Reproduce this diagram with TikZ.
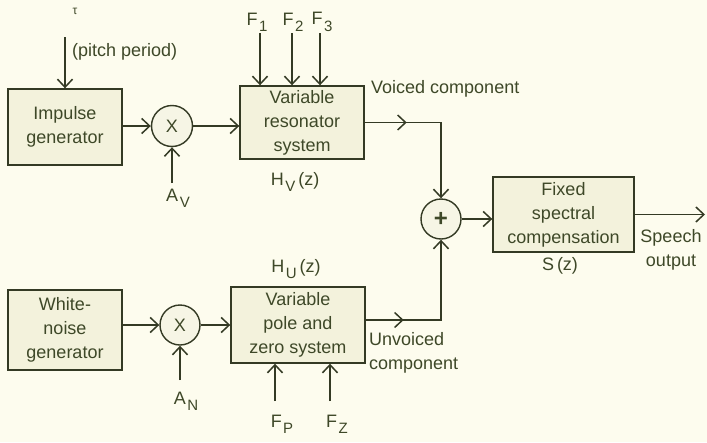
\documentclass[tikz,border=0pt]{standalone}
\usepackage{fontspec}
\setmainfont{Liberation Sans}
\usetikzlibrary{arrows.meta}
\definecolor{bg}{HTML}{FDFCEE}
\definecolor{boxfill}{HTML}{F3F2DC}
\definecolor{circfill}{HTML}{F6F5E5}
\definecolor{ink}{HTML}{343A24}
\definecolor{txt}{HTML}{3E4828}
\newcommand\lsub[1]{\kern1.5pt\raisebox{-0.35em}{\fontsize{15}{15}\selectfont #1}}
\tikzset{
 blk/.style={draw=ink, fill=boxfill, line width=1.4pt, align=center, text=txt, inner sep=0pt},
 junc/.style={circle, draw=ink, fill=circfill, line width=1.4pt, minimum size=41pt, inner sep=0pt, text=txt},
 lbl/.style={text=txt, inner sep=0pt},
 arr/.style={draw=ink, line width=1.5pt, -{Straight Barb[length=8pt,width=15pt,line width=1.5pt]}},
}
\begin{document}
\begin{tikzpicture}[x=1pt,y=-1pt,font=\fontsize{18}{24}\selectfont]
\useasboundingbox[fill=bg] (0,0) rectangle (707,442);
% blocks
\node[blk, minimum width=114pt, minimum height=76pt] (imp) at (65,127) {Impulse\\generator};
\node[junc] (m1) at (172,126) {X};
\node[blk, minimum width=124pt, minimum height=73pt] (res) at (302,122.5) {Variable\\resonator\\system};
\node[junc, minimum size=40pt, font=\fontsize{24}{24}\selectfont\bfseries] (plus) at (441,219) {+};
\node[blk, minimum width=141pt, minimum height=75pt] (fix) at (563.5,214.5) {Fixed\\spectral\\compensation};
\node[blk, minimum width=114pt, minimum height=80pt] (noise) at (65,330) {White-\\noise\\generator};
\node[junc, minimum size=40pt] (m2) at (180,325) {X};
\node[blk, minimum width=134pt, minimum height=76pt] (pz) at (298,325) {Variable\\pole and\\zero system};
% labels
\node[lbl, font=\fontsize{12}{12}\selectfont] (taul) at (75,11) {τ};
\node[lbl, anchor=west] (pp) at (72,52) {(pitch period)};
\node[lbl] (f1l) at (257,22) {F\lsub{1}};
\node[lbl] (f2l) at (293,22) {F\lsub{2}};
\node[lbl] (f3l) at (322,22) {F\lsub{3}};
\node[lbl, anchor=west] (vcl) at (371,89) {Voiced component};
\node[lbl] (hv) at (295,182) {H\lsub{V}\,(z)};
\node[lbl] (hu) at (296,269) {H\lsub{U}\,(z)};
\node[lbl] (sz) at (560,266) {S\,(z)};
\node[lbl, align=center] (sp) at (671,250) {Speech\\output};
\node[lbl, align=left, anchor=west] (uvl) at (369,353) {Unvoiced\\component};
\node[lbl] (av) at (178,198) {A\lsub{V}};
\node[lbl] (an) at (186,401) {A\lsub{N}};
\node[lbl] (fp) at (282,424) {F\lsub{P}};
\node[lbl] (fz) at (337,424) {F\lsub{Z}};
% free ends
\coordinate (tau) at (65,37);
\coordinate (f1) at (260,33);
\coordinate (f2) at (292,33);
\coordinate (f3) at (320,33);
\coordinate (avs) at (172,183);
\coordinate (ans) at (180,380);
\coordinate (fps) at (275,401);
\coordinate (fzs) at (330,401);
\coordinate (out) at (705,214.5);
% connectors
\draw[arr] (tau) -- (tau |- imp.north);
\draw[arr] (f1) -- (f1 |- res.north);
\draw[arr] (f2) -- (f2 |- res.north);
\draw[arr] (f3) -- (f3 |- res.north);
\draw[arr] (imp.east |- m1) -- (m1);
\draw[arr] (m1.east) -- (m1.east -| res.west);
\draw[arr] (avs) -- (m1.south);
\draw[arr] (res.east) -- ++(42,0);
\draw[arr] (res.east) -| (plus.north);
\draw[arr] (noise.east |- m2) -- (m2);
\draw[arr] (m2.east) -- (m2.east -| pz.west);
\draw[arr] (ans) -- (m2.south);
\draw[arr] (fps) -- (fps |- pz.south);
\draw[arr] (fzs) -- (fzs |- pz.south);
\draw[arr] ([yshift=5pt]pz.east) -- ++(38,0);
\draw[arr] ([yshift=5pt]pz.east) -| (plus.south);
\draw[arr] (plus.east) -- (plus.east -| fix.west);
\draw[arr] (fix.east) -- (out);
\end{tikzpicture}
\end{document}
